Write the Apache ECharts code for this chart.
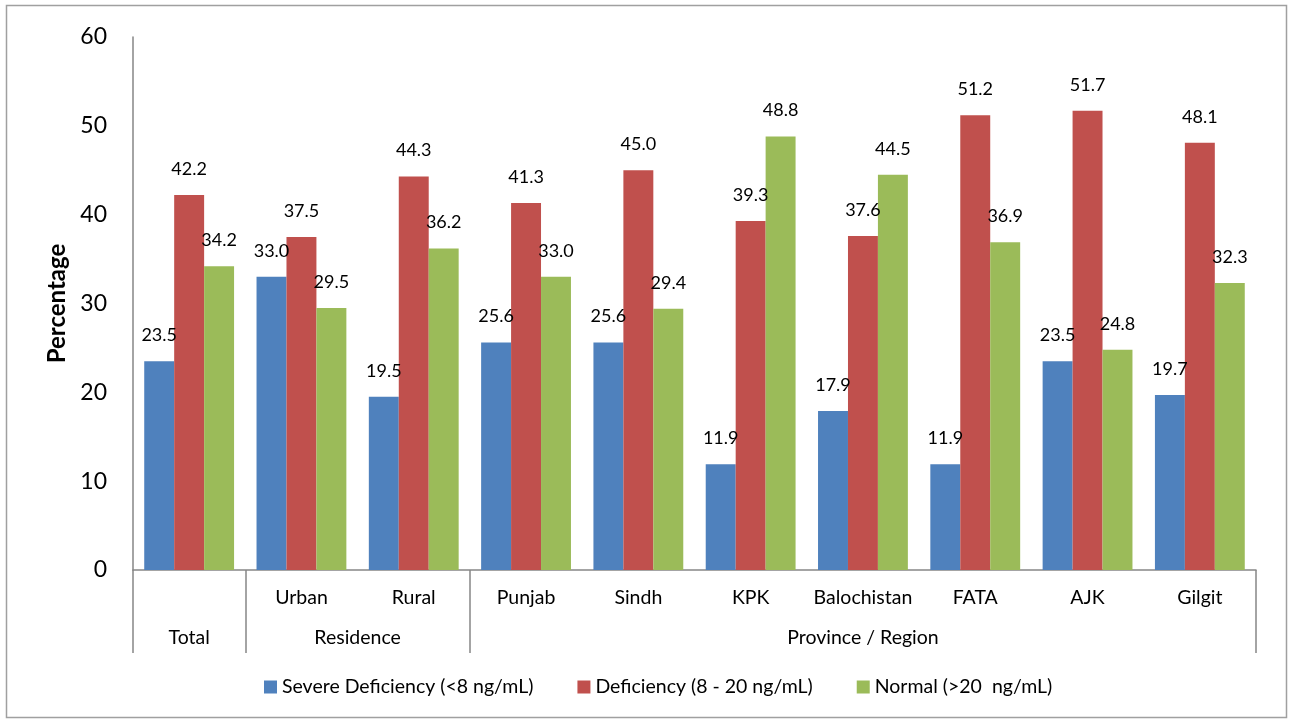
<!DOCTYPE html>
<html><head><meta charset="utf-8">
<script src="https://cdn.jsdelivr.net/npm/echarts@6/dist/echarts.min.js"></script>
<style>html,body{margin:0;padding:0;background:#fff}#c{width:1289px;height:721px}</style>
</head><body><div id="c"></div>
<script>
const categories = ['', 'Urban', 'Rural', 'Punjab', 'Sindh', 'KPK', 'Balochistan', 'FATA', 'AJK', 'Gilgit'];
const groupLabels = ['Total', 'Residence', 'Province / Region'];
const severe = [23.5, 33.0, 19.5, 25.6, 25.6, 11.9, 17.9, 11.9, 23.5, 19.7];
const deficiency = [42.2, 37.5, 44.3, 41.3, 45.0, 39.3, 37.6, 51.2, 51.7, 48.1];
const normal = [34.2, 29.5, 36.2, 33.0, 29.4, 48.8, 44.5, 36.9, 24.8, 32.3];
const seriesNames = ['Severe Deficiency (<8 ng/mL)', 'Deficiency (8 - 20 ng/mL)', 'Normal (>20  ng/mL)'];
const yTicks = { min: 0, max: 60, interval: 10 };

// group axis: half-category slots (0..20), boundaries at 0,1,3,10 categories
const groupSlots = [];
for (let k = 0; k <= 20; k++) groupSlots.push('');
groupSlots[1] = groupLabels[0];
groupSlots[4] = groupLabels[1];
groupSlots[13] = groupLabels[2];
const boundarySlots = [0, 2, 6, 20];

const font = 'Lato, "Open Sans", sans-serif';
const colors = ['#4F81BD', '#C0504D', '#9BBB59'];
const chart = echarts.init(document.getElementById('c'));
function mkSeries(name, data, i) {
  return {
    name, type: 'bar', data, barGap: '0%', barCategoryGap: '20%',
    itemStyle: { color: colors[i] },
    label: { show: true, position: 'top', distance: 17, color: '#000', fontSize: 18, fontFamily: font,
      formatter: p => p.value.toFixed(1) }
  };
}
chart.setOption({
  animation: false,
  color: colors,
  grid: { left: 133, right: 33, top: 37, bottom: 151, containLabel: false },
  legend: {
    bottom: 19, left: 259, itemWidth: 13, itemHeight: 13, itemGap: 44,
    icon: 'rect',
    textStyle: { fontSize: 19.5, fontFamily: font, color: '#000' },
    data: seriesNames
  },
  xAxis: [
    { type: 'category', data: categories, position: 'bottom',
      axisLine: { show: true, lineStyle: { color: '#868686', width: 1.5 } },
      axisTick: { show: false },
      axisLabel: { color: '#000', fontSize: 19.5, fontFamily: font, margin: 18, interval: 0 } },
    { type: 'category', data: groupSlots, position: 'bottom', boundaryGap: false,
      axisLine: { show: false },
      axisTick: { show: true, length: 83, lineStyle: { color: '#868686', width: 1.5 },
        interval: (idx) => boundarySlots.indexOf(idx) >= 0 },
      axisLabel: { color: '#000', fontSize: 19.5, fontFamily: font, margin: 58, interval: 0 } }
  ],
  yAxis: {
    type: 'value', min: yTicks.min, max: yTicks.max, interval: yTicks.interval,
    name: 'Percentage', nameLocation: 'middle', nameGap: 62,
    nameTextStyle: { fontSize: 24, fontWeight: 'bold', fontFamily: font, color: '#000' },
    axisLine: { show: true, lineStyle: { color: '#868686', width: 1.5 } },
    axisTick: { show: false },
    splitLine: { show: false },
    axisLabel: { color: '#000', fontSize: 23, fontFamily: font, margin: 26 }
  },
  graphic: [{ type: 'rect', shape: { x: 6.5, y: 5.5, width: 1280, height: 712 },
    style: { fill: 'none', stroke: '#a0a0a0', lineWidth: 1.5 }, silent: true }],
  series: [mkSeries(seriesNames[0], severe, 0), mkSeries(seriesNames[1], deficiency, 1), mkSeries(seriesNames[2], normal, 2)]
});
</script></body></html>
